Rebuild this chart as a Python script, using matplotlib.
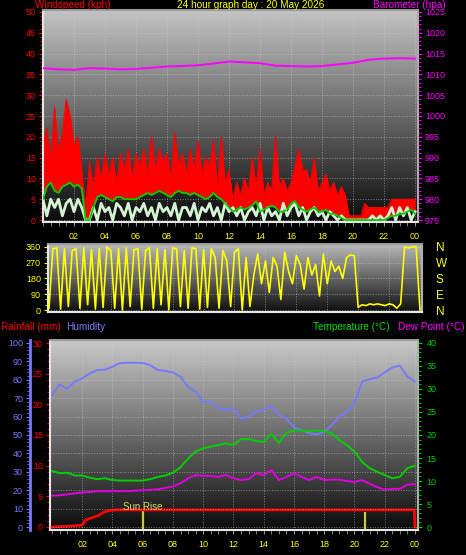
import numpy as np
import matplotlib
matplotlib.use('Agg')
import matplotlib.pyplot as plt
from matplotlib.ticker import MultipleLocator, FixedLocator

plt.rcParams['font.family'] = ['Liberation Sans', 'DejaVu Sans']

# ---- data ----
# wind, every 15 minutes (0 .. 24 h)
gust = [18, 22, 14, 27, 16, 21, 29, 25, 18, 20, 12, 3,
        14, 8, 15, 10, 16, 11, 15, 9, 16, 12, 17, 10,
        16, 13, 17, 11, 20, 12, 17, 14, 16, 10, 21, 13,
        16, 11, 17, 12, 19, 11, 15, 13, 19, 8, 20, 9,
        12, 5, 9, 6, 10, 7, 15, 8, 17, 6, 9, 7,
        20, 8, 10, 7, 9, 13, 17, 12, 12, 9, 15, 7,
        9, 11, 7, 9, 6, 8, 6, 1, 1, 1, 1, 4,
        3, 3, 3, 3, 3, 3, 5, 5, 5, 5, 5, 5, 5]
wind_avg = [5, 8, 9, 7, 6.5, 8, 8.5, 9, 8, 8.5, 7.5, 0,
            0, 3, 5.5, 6, 5.5, 5, 4.5, 5.5, 5.5, 5, 5, 5,
            5, 5.5, 6, 6.5, 6, 6.5, 7, 6.5, 6, 5.5, 6.5, 7,
            6.5, 6.5, 6, 6.5, 6, 5.5, 5, 5.5, 6.5, 5.5, 5, 4,
            3, 2, 2.5, 3, 2.5, 3, 3.5, 4.5, 2, 2.5, 3, 3.5,
            3, 2, 2, 2.5, 4, 4.5, 3, 2.5, 2, 2.5, 3, 2,
            2, 2.5, 1.5, 1.5, 1, 0.5, 0, 0, 0, 0, 0, 0,
            0, 0, 0, 0, 0, 0.5, 1, 1, 1.5, 1.5, 2, 2.5, 1.5]
wind_now = [5, 1, 5, 3, 5, 1, 4, 5, 2, 5, 3,
            0, 0,
            3, 0, 4, 2, 3, 0, 4, 3, 1, 4, 0, 3, 2, 4, 1, 3, 0, 4,
            2, 3, 1, 4, 0, 3, 3, 1, 4, 0, 3, 2, 4, 1, 3, 0, 4, 2,
            3, 1, 3, 0, 2, 3, 1, 4, 0, 3, 1, 2, 0, 4, 1, 3, 4, 1,
            3, 0, 2, 3, 1, 2, 0, 2, 1, 0, 1,
            0, 0, 0, 0, 0, 0, 0,
            1, 0, 1, 0, 1,
            3, 0, 3, 1, 3, 0, 2]
wind_dir = [10, 350, 355, 5, 350, 20, 340, 350, 10, 355,
            30, 345, 5, 350, 15, 360, 340, 10, 350, 0,
            355, 20, 345, 350, 5, 340, 355, 10, 350, 30,
            345, 0, 355, 350, 20, 340, 10, 355, 350, 5,
            345, 15, 350, 300, 10, 340, 280, 20, 330, 350,
            0, 300, 20,
            200, 320, 150, 280, 100, 300, 250, 60, 330, 220, 150, 310,
            260, 120, 300, 200, 260, 80, 320, 150, 280, 220, 250, 180,
            300, 315, 310,
            15, 30, 25, 35, 30, 35, 30, 25, 35, 30, 10, 35,
            360, 355, 360, 360, 0]

# barometer, hourly
barometer = [1011.5, 1011.2, 1011.1, 1011.5, 1011.4, 1011.2, 1011.3, 1011.6,
             1011.9, 1012.0, 1012.2, 1012.6, 1013.1, 1012.9, 1012.7, 1012.1,
             1012.0, 1011.9, 1012.0, 1012.4, 1012.8, 1013.5, 1013.8, 1013.9,
             1013.8]

# half-hourly
humidity = [71.7, 77.5, 75, 79, 80.8, 83.5, 85.3, 85.5, 87.1, 89, 89.3, 89.3,
            89.1, 88, 85.3, 84.8, 84, 81.7, 76, 73.5, 67.8, 68, 64.5, 63.6,
            64.5, 59, 60, 62.7, 63.6, 66, 61, 59, 54, 52.7, 51, 50.5,
            51.6, 55.4, 60, 62.7, 67.2, 79, 80.3, 81.2, 84, 86.6, 87.7, 81.7, 79]
temperature = [12.2, 11.7, 11.8, 11.2, 11.2, 10.7, 10.4, 10.6, 10.2, 10.1, 10.1, 10.1,
               10.1, 10.4, 10.9, 11.2, 11.8, 13, 14.9, 16.4, 17.1, 17.5, 17.8, 18.2,
               17.8, 19.1, 19.1, 18.7, 18.5, 20.2, 18.3, 20.5, 21, 21, 20.8, 21,
               20.8, 20.4, 18.9, 17.8, 16.4, 14.2, 12.8, 12, 11.3, 10.6, 10.9, 12.8, 13.3]
dew_point = [6.8, 6.9, 7.1, 7.3, 7.5, 7.6, 7.8, 7.8, 7.8, 7.8, 7.8, 7.9,
             8, 8.1, 8.2, 8.5, 8.8, 9.5, 10.6, 11.3, 11.1, 11.1, 10.9, 11.3,
             10.6, 10.2, 10.4, 11.7, 11.3, 12.4, 10.2, 10.9, 11.7, 10.9, 10.2, 10.9,
             10.2, 10.3, 10.3, 10, 9.8, 10.2, 9.4, 8.7, 8.1, 8.3, 8.3, 9.2, 9.3]

rain_hours = [0, 1.5, 2, 2.2, 2.5, 3, 3.5, 4, 4.5, 23.95, 24]
rain_mm = [0, 0.2, 0.3, 1.1, 1.4, 1.8, 2.5, 2.75, 2.8, 2.8, 0]

sunrise, sunset = 6.0, 20.7
hour_ticks = list(range(2, 25, 2))
hour_labels = ['%02d' % (h % 24) for h in hour_ticks]

qh = np.arange(len(gust)) * 0.25
hh = np.arange(len(humidity)) * 0.5
bh = np.arange(len(barometer))

# ---- layout ----
W, H = 466, 555
fig = plt.figure(figsize=(W / 100, H / 100), dpi=100, facecolor='black')


def box(l, t, r, b):
    return [l / W, 1 - b / H, (r - l) / W, (b - t) / H]


def shade(ax, top, bottom):
    g = np.linspace(top, bottom, 256)[:, None]
    ax.imshow(g, cmap='gray', vmin=0, vmax=255, aspect='auto',
              extent=(0, 1, 0, 1), transform=ax.transAxes, zorder=0)
    ax.set_axisbelow(True)
    ax.grid(True, color='#d0d0d0', ls=':', lw=0.7, alpha=0.55)


def frame(ax):
    ax.spines['left'].set_color('#e8e8e8')
    ax.spines['bottom'].set_color('#e8e8e8')
    ax.spines['top'].set_color('#9a9a9a')
    ax.spines['right'].set_color('#b0b0b0')
    for s in ax.spines.values():
        s.set_linewidth(1.5)


def hide_spines(ax):
    for s in ax.spines.values():
        s.set_visible(False)


TICK = 6.5

# top panel: wind + barometer
ax1 = fig.add_axes(box(43, 10, 418, 222))
shade(ax1, 195, 12)
ax1.fill_between(qh, wind_avg, gust, color='red', lw=0, zorder=2)
ax1.plot(qh, gust, color='red', lw=0.8, zorder=2)
ax1.plot(qh, wind_now, color='#d4f4d4', lw=2, zorder=3)
ax1.plot(qh, wind_avg, color='#00d000', lw=1.3, zorder=4)
ax1.set_xlim(0, 24.19)
ax1.set_ylim(-0.48, 50.48)
ax1.yaxis.set_major_locator(MultipleLocator(5))
ax1.yaxis.set_minor_locator(MultipleLocator(1))
ax1.xaxis.set_major_locator(FixedLocator(hour_ticks))
ax1.xaxis.set_minor_locator(MultipleLocator(0.5))
ax1.set_xticklabels(hour_labels)
ax1.tick_params(axis='y', which='both', colors='red', labelsize=TICK, pad=2)
ax1.tick_params(axis='y', which='major', length=3)
ax1.tick_params(axis='y', which='minor', length=2)
ax1.tick_params(axis='x', which='both', color='#909090', labelcolor='yellow',
                labelsize=TICK, length=3, pad=4)
frame(ax1)

axb = ax1.twinx()
axb.plot(bh, barometer, color='#ff00ff', lw=1.4, zorder=5)
axb.set_ylim(975 - 0.48, 1025 + 0.48)
axb.set_xlim(0, 24.19)
axb.yaxis.set_major_locator(MultipleLocator(5))
axb.yaxis.set_minor_locator(MultipleLocator(1))
axb.tick_params(axis='y', which='both', colors='#ff00ff', labelsize=TICK, pad=2)
axb.tick_params(axis='y', which='major', length=3)
axb.tick_params(axis='y', which='minor', length=2)
hide_spines(axb)

# wind direction panel
ax2 = fig.add_axes(box(48, 244, 422, 312))
shade(ax2, 185, 14)
ax2.plot(qh, wind_dir, color='yellow', lw=1.2, zorder=3)
ax2.set_xlim(-0.065, 24.13)
ax2.set_ylim(-11.4, 377)
ax2.yaxis.set_major_locator(FixedLocator([0, 90, 180, 270, 360]))
ax2.yaxis.set_minor_locator(MultipleLocator(30))
ax2.xaxis.set_major_locator(FixedLocator(hour_ticks))
ax2.tick_params(axis='x', length=0, labelbottom=False)
ax2.tick_params(axis='y', which='both', colors='yellow', labelsize=TICK, pad=2)
ax2.tick_params(axis='y', which='major', length=3)
ax2.tick_params(axis='y', which='minor', length=2)
frame(ax2)

ax2r = ax2.twinx()
ax2r.set_ylim(-11.4, 377)
ax2r.set_yticks([0, 90, 180, 270, 360])
ax2r.set_yticklabels(['N', 'E', 'S', 'W', 'N'])
ax2r.tick_params(axis='y', length=0, pad=10, labelcolor='yellow', labelsize=8.5)
hide_spines(ax2r)

# bottom panel: rain, humidity, temperature, dew point
ax3 = fig.add_axes(box(50, 340, 418, 530))
shade(ax3, 200, 12)
ax3.plot(rain_hours, rain_mm, color='red', lw=2, zorder=3)
ax3.vlines([sunrise, sunset], [-0.5, -0.5], [2.8, 2.5], color='#c8c840', lw=1.6, zorder=2)
ax3.text(sunrise, 2.5, 'Sun Rise', color='#d8d860', fontsize=7, ha='center',
         va='bottom', zorder=6)
ax3.set_xlim(-0.132, 24.2)
ax3.set_ylim(-0.49, 30.49)
ax3.yaxis.set_major_locator(MultipleLocator(5))
ax3.yaxis.set_minor_locator(MultipleLocator(1))
ax3.xaxis.set_major_locator(FixedLocator(hour_ticks))
ax3.xaxis.set_minor_locator(MultipleLocator(0.5))
ax3.set_xticklabels(hour_labels)
ax3.tick_params(axis='y', which='both', colors='red', labelsize=TICK, pad=2)
ax3.tick_params(axis='y', which='major', length=3)
ax3.tick_params(axis='y', which='minor', length=2)
ax3.tick_params(axis='x', which='both', color='#909090', labelcolor='yellow',
                labelsize=TICK, length=3, pad=4)
ax3.grid(False, axis='y')
frame(ax3)

ax3h = ax3.twinx()
ax3h.plot(hh, humidity, color='#7878ff', lw=1.4, zorder=3)
ax3h.set_ylim(-1.63, 101.63)
ax3h.set_xlim(-0.132, 24.2)
hide_spines(ax3h)
ax3h.yaxis.tick_left()
ax3h.spines['left'].set_visible(True)
ax3h.spines['left'].set_position(('axes', -20 / 368))
ax3h.spines['left'].set_color('#7878ff')
ax3h.spines['left'].set_linewidth(2)
ax3h.yaxis.set_major_locator(MultipleLocator(10))
ax3h.yaxis.set_minor_locator(MultipleLocator(2))
ax3h.tick_params(axis='y', which='both', colors='#7878ff', labelsize=TICK, pad=2)
ax3h.tick_params(axis='y', which='major', length=3)
ax3h.tick_params(axis='y', which='minor', length=2)
ax3h.grid(True, axis='y', color='#d0d0d0', ls=':', lw=0.7, alpha=0.55, zorder=1)

ax3t = ax3.twinx()
ax3t.plot(hh, temperature, color='#00d000', lw=1.4, zorder=4)
ax3t.plot(hh, dew_point, color='#e000e0', lw=1.4, zorder=4)
ax3t.set_ylim(-0.65, 40.65)
ax3t.set_xlim(-0.132, 24.2)
ax3t.yaxis.set_major_locator(MultipleLocator(5))
ax3t.yaxis.set_minor_locator(MultipleLocator(1))
ax3t.tick_params(axis='y', which='both', colors='#00d000', labelsize=TICK, pad=3)
ax3t.tick_params(axis='y', which='major', length=3)
ax3t.tick_params(axis='y', which='minor', length=2)
hide_spines(ax3t)

# titles
TS = 7.2
ty = 1 - 4.5 / H
fig.text(35 / W, ty, 'Windspeed (kph)', color='red', fontsize=TS, va='center')
fig.text(251 / W, ty, '24 hour graph day : 20 May 2026', color='yellow',
         fontsize=TS, va='center', ha='center')
fig.text(446 / W, ty, 'Barometer (hpa)', color='#ff00ff', fontsize=TS,
         va='center', ha='right')
by = 1 - 327 / H
fig.text(1 / W, by, 'Rainfall (mm)', color='red', fontsize=TS, va='center')
fig.text(66 / W, by, 'Humidity', color='#8080ff', fontsize=TS, va='center')
fig.text(313 / W, by, 'Temperature (°C)', color='#00e000', fontsize=TS, va='center')
fig.text(464 / W, by, 'Dew Point (°C)', color='#ff00ff', fontsize=TS,
         va='center', ha='right')

fig.savefig('out.png', dpi=100, facecolor='black')
